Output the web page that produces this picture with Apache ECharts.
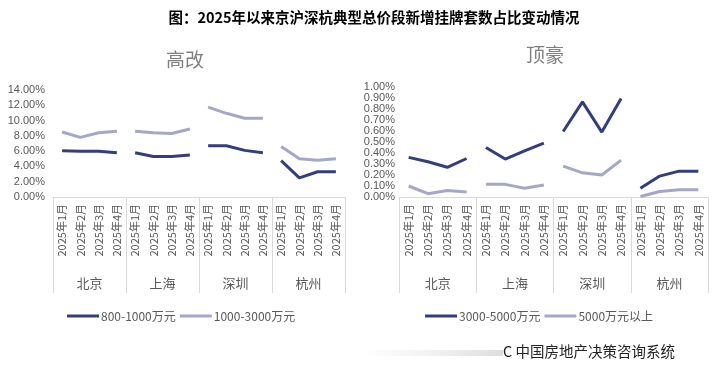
<!DOCTYPE html>
<html><head><meta charset="utf-8">
<script src="https://cdn.jsdelivr.net/npm/echarts@6/dist/echarts.min.js"></script>
<style>html,body{margin:0;padding:0;background:#fff}#c{width:719px;height:367px}</style>
</head><body><div id="c"></div>
<script>
const cities = ['北京','上海','深圳','杭州'];
const months = ['2025年1月','2025年2月','2025年3月','2025年4月'];
const gaiNames = ['800-1000万元','1000-3000万元'];
const haoNames = ['3000-5000万元','5000万元以上'];
const gai800 = [6.05,6.0,6.0,5.8, 5.8,5.3,5.3,5.5, 6.7,6.7,6.1,5.8, 4.75,2.5,3.3,3.3];
const gai1000 = [8.5,7.8,8.4,8.6, 8.6,8.4,8.3,8.9, 11.75,10.95,10.3,10.3, 6.6,5.0,4.8,5.0];
const hao3000 = [0.36,0.32,0.27,0.35, 0.45,0.345,0.42,0.49, 0.595,0.865,0.59,0.895, 0.08,0.19,0.235,0.235];
const hao5000 = [0.10,0.03,0.06,0.045, 0.115,0.115,0.08,0.11, 0.28,0.22,0.20,0.335, 0.005,0.05,0.065,0.065];
const yTicksGai = {min:0,max:14,interval:2};
const yTicksHao = {min:0,max:1,interval:0.1};

const DARK = '#333f7b', LIGHT = '#a4a7c6', GREY = '#595959', SEP = '#d9d9d9';
const cats = [];
cities.forEach(c => months.forEach(m => cats.push(m)));

function citySeries(name, values, color, gi) {
  return cities.map((c, ci) => ({
    name: name, type: 'line', xAxisIndex: gi*3, yAxisIndex: gi,
    symbol: 'none', silent: true,
    lineStyle: {width: 3, color: color}, itemStyle: {color: color},
    data: values.map((v, i) => Math.floor(i/4) === ci ? v : null)
  }));
}

function xAxes(gi) {
  return [
    {type:'category', gridIndex:gi, data:cats, boundaryGap:true,
     axisLine:{lineStyle:{color:SEP}}, axisTick:{show:false},
     axisLabel:{interval:0, rotate:90, color:GREY, fontSize:11, margin:7, fontFamily:'Noto Sans CJK SC'}},
    {type:'category', gridIndex:gi, data:cities, position:'bottom', offset:76,
     axisLine:{show:false}, axisTick:{show:false},
     axisLabel:{color:GREY, fontSize:13, margin:4, fontFamily:'Noto Sans CJK SC'}},
    {type:'category', gridIndex:gi, data:cities, position:'bottom', offset:96,
     axisLine:{show:false}, axisLabel:{show:false},
     axisTick:{show:true, inside:true, length:96, lineStyle:{color:SEP}}}
  ];
}

const chart = echarts.init(document.getElementById('c'), null, {renderer:'canvas'});
chart.setOption({
  animation:false,
  backgroundColor:'#fff',
  title:[
    {text:'图：2025年以来京沪深杭典型总价段新增挂牌套数占比变动情况', left:369, top:5, textAlign:'center',
     textStyle:{fontSize:14.5, fontWeight:'bold', color:'#000', fontFamily:'Noto Sans CJK SC'}},
    {text:'高改', left:180, top:45, textAlign:'center', textStyle:{fontSize:19, fontWeight:'normal', color:'#7f7f7f', fontFamily:'Noto Sans CJK SC'}},
    {text:'顶豪', left:540, top:40, textAlign:'center', textStyle:{fontSize:19, fontWeight:'normal', color:'#7f7f7f', fontFamily:'Noto Sans CJK SC'}}
  ],
  legend:[
    {data:gaiNames, left:62, top:305, icon:'rect', itemWidth:32, itemHeight:3, itemGap:4,
     textStyle:{color:GREY, fontSize:12, padding:[0,0,0,-3], fontFamily:'Noto Sans CJK SC'}},
    {data:haoNames, left:420, top:305, icon:'rect', itemWidth:32, itemHeight:3, itemGap:4,
     textStyle:{color:GREY, fontSize:12, padding:[0,0,0,-3], fontFamily:'Noto Sans CJK SC'}}
  ],
  grid:[
    {left:53, top:90, width:292, height:107},
    {left:399, top:87, width:309, height:110}
  ],
  xAxis: xAxes(0).concat(xAxes(1)),
  yAxis:[
    {type:'value', gridIndex:0, min:yTicksGai.min, max:yTicksGai.max, interval:yTicksGai.interval,
     splitLine:{show:false}, axisLine:{show:false}, axisTick:{show:false},
     axisLabel:{color:GREY, fontSize:11, margin:8, formatter:v=>v.toFixed(2)+'%'}},
    {type:'value', gridIndex:1, min:yTicksHao.min, max:yTicksHao.max, interval:yTicksHao.interval,
     splitLine:{show:false}, axisLine:{show:false}, axisTick:{show:false},
     axisLabel:{color:GREY, fontSize:11, margin:4, formatter:v=>v.toFixed(2)+'%'}}
  ],
  graphic:[
    {type:'rect', left:360, top:350, shape:{width:143, height:6},
     style:{fill:new echarts.graphic.LinearGradient(0,0,1,0,[{offset:0,color:'rgba(220,220,220,0)'},{offset:1,color:'rgba(200,200,200,0.6)'}])}},
    {type:'text', left:503, top:344, style:{text:'C 中国房地产决策咨询系统', fontSize:14.5, fill:'#222', fontFamily:'Noto Sans CJK SC'}}
  ],
  series: [].concat(
    citySeries(gaiNames[0], gai800, DARK, 0),
    citySeries(gaiNames[1], gai1000, LIGHT, 0),
    citySeries(haoNames[0], hao3000, DARK, 1),
    citySeries(haoNames[1], hao5000, LIGHT, 1)
  )
});
</script></body></html>
